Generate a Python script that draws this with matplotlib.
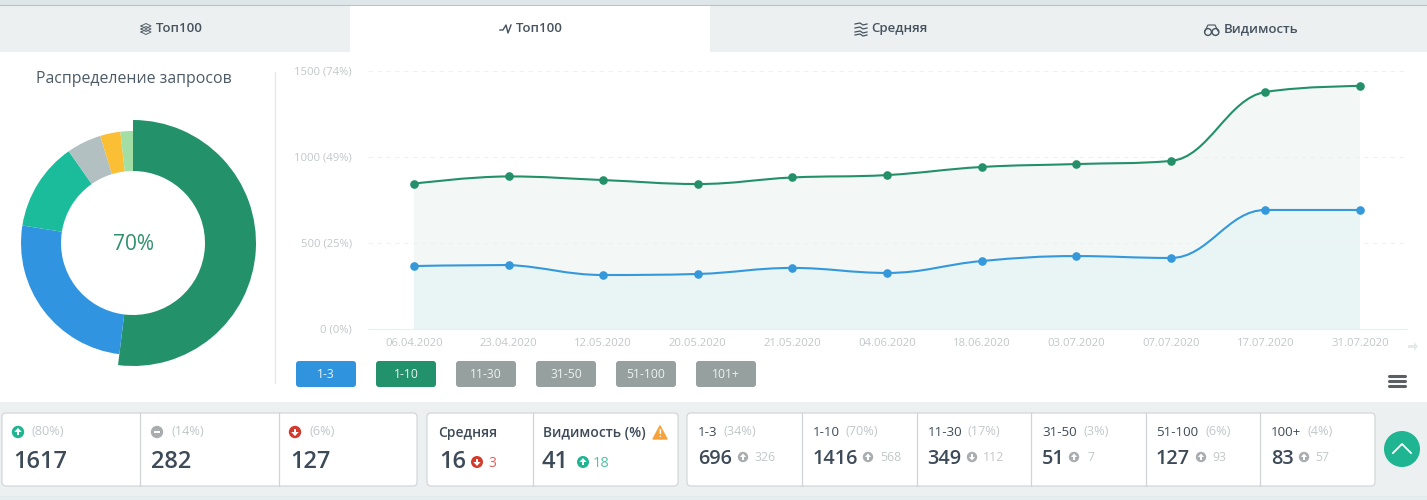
import matplotlib
matplotlib.use("Agg")
import matplotlib.pyplot as plt
from matplotlib.patches import Circle, FancyBboxPatch, PathPatch, Polygon, Rectangle
from matplotlib.path import Path

plt.rcParams['font.family'] = ['Open Sans', 'DejaVu Sans']

W, H = 1427, 500

# data
dates = ["06.04.2020", "23.04.2020", "12.05.2020", "20.05.2020", "21.05.2020", "04.06.2020",
         "18.06.2020", "03.07.2020", "07.07.2020", "17.07.2020", "31.07.2020"]
top10 = [845, 887, 866, 843, 881, 895, 942, 959, 977, 1378, 1413]
top3 = [366, 372, 314, 320, 355, 326, 395, 424, 413, 692, 692]
y_ticks = [0, 500, 1000, 1500]
y_labels = ["0 (0%)", "500 (25%)", "1000 (49%)", "1500 (74%)"]

pie_sizes = [187, 92, 46, 18, 10.5, 6.5]
pie_colors = ["#23926b", "#3094e0", "#1abc9c", "#b2c0c2", "#fbbf35", "#a3dea4"]

tab_names = ["Топ100", "Топ100", "Средняя", "Видимость"]
button_names = ["1-3", "1-10", "11-30", "31-50", "51-100", "101+"]
button_colors = ["#2f93dd", "#21926b", "#95a09f", "#95a09f", "#95a09f", "#95a09f"]

change_pct = ["(80%)", "(14%)", "(6%)"]
change_val = ["1617", "282", "127"]

range_names = ["1-3", "1-10", "11-30", "31-50", "51-100", "100+"]
range_pct = ["(34%)", "(70%)", "(17%)", "(3%)", "(6%)", "(4%)"]
range_val = ["696", "1416", "349", "51", "127", "83"]
range_delta = ["326", "568", "112", "7", "93", "57"]

DARK = "#3d4a58"
LIGHT = "#c3c7c9"
GREEN = "#23906a"
BLUE = "#3498db"

fig = plt.figure(figsize=(W / 100, H / 100), dpi=100, facecolor="white")

# page overlay in pixel coordinates
bg = fig.add_axes([0, 0, 1, 1], zorder=0)
bg.set_xlim(0, W)
bg.set_ylim(H, 0)
bg.axis("off")


def rect(x0, y0, x1, y1, color, z=1):
    bg.add_patch(Rectangle((x0, y0), x1 - x0, y1 - y0, fc=color, ec="none", zorder=z))


def card(x0, x1, dividers):
    bg.add_patch(FancyBboxPatch((x0, 413), x1 - x0, 73, boxstyle="round,pad=0,rounding_size=4",
                                fc="white", ec="#d3d7d9", lw=0.9, zorder=2))
    for d in dividers:
        bg.plot([d, d], [413, 486], color="#d0d4d6", lw=0.9, zorder=3)


def arrow_icon(x, y, r, color, kind="up"):
    bg.add_patch(Circle((x, y), r, fc=color, ec="none", zorder=4))
    s = r * 0.55
    if kind == "flat":
        bg.add_patch(Rectangle((x - s, y - s * 0.4), 2 * s, s * 0.8, fc="white", ec="none", zorder=5))
        return
    d = -1 if kind == "up" else 1
    bg.add_patch(Polygon([(x - s * 1.1, y), (x, y + d * s * 1.2), (x + s * 1.1, y)], fc="white", ec="none", zorder=5))
    bg.add_patch(Rectangle((x - s * 0.35, y - (s if d > 0 else 0)), s * 0.7, s, fc="white", ec="none", zorder=5))


def txt(x, y, s, size, color=DARK, ha="left", weight="normal"):
    # va center sits a little high for this font
    bg.text(x, y + 1.5, s, fontsize=size, color=color, ha=ha, va="center", weight=weight, zorder=6)


# bands and tabs
rect(0, 0, W, 5, "#dfe6ea")
bg.plot([0, W], [4.5, 4.5], color="#b9c3c9", lw=0.8, zorder=2)
rect(0, 5, W, 52, "#ecf0f1")
rect(350, 6, 710, 52, "white", 2)
rect(0, 402, W, 500, "#ecf0f1")
bg.plot([0, W], [496.5, 496.5], color="#c3cdcd", lw=1, zorder=2)
rect(0, 497, W, 500, "#e4edf0", 2)

tab_x = [156, 516, 871, 1224]
for x, name in zip(tab_x, tab_names):
    txt(x, 27, name, 9.5, "#46535f", weight="semibold")

# tab icons
for dy in (-3, 0, 3):
    bg.plot([141, 146, 151, 146, 141], [29 + dy, 26.5 + dy, 29 + dy, 31.5 + dy, 29 + dy], color="#55606a", lw=0.7, zorder=4)
bg.plot([500, 503, 506, 508, 511], [30, 30, 25, 33, 25], color="#46535f", lw=1, zorder=4)
for dy in (-5, -1, 3, 6):
    bg.plot([855, 860, 863, 867], [29 + dy, 28 + dy, 30 + dy, 29 + dy], color="#46535f", lw=0.9, zorder=4)
bg.add_patch(Circle((1208, 32), 3.4, fc="none", ec="#46535f", lw=1, zorder=4))
bg.add_patch(Circle((1215.5, 32), 3.4, fc="none", ec="#46535f", lw=1, zorder=4))
bg.plot([1205, 1208, 1215, 1218], [31, 25, 25, 31], color="#46535f", lw=0.8, zorder=4)

# left panel
txt(134, 77.5, "Распределение запросов", 11.4, "#4c5a66", ha="center")
bg.plot([275, 275], [72, 383], color="#e6e9eb", lw=1, zorder=2)

# buttons
for i, (name, c) in enumerate(zip(button_names, button_colors)):
    x0 = 296 + 80 * i
    bg.add_patch(FancyBboxPatch((x0, 361), 60, 26, boxstyle="round,pad=0,rounding_size=3",
                                fc=c, ec="none", zorder=3))
    txt(x0 + 30, 373, name, 8.7, "#eef2f2", ha="center")

# menu icon and scroll arrow
for y in (375.5, 380.5, 386):
    bg.plot([1389, 1405], [y, y], color="#5a5f63", lw=2.2, solid_capstyle="round", zorder=3)
bg.add_patch(Polygon([(1408, 345), (1414, 345), (1414, 342), (1418, 346.5), (1414, 351), (1414, 348), (1408, 348)],
                     fc="#e6e8e9", ec="none", zorder=3))

# up / same / down card
card(2, 417, [139.5, 278.5])
icon_x = [18, 157, 295]
pct_x = [32, 171, 309]
val_x = [13, 151, 290]
kinds = ["up", "flat", "down"]
icon_c = ["#1fb592", "#a9adaf", "#d33a2c"]
for i in range(3):
    arrow_icon(icon_x[i], 432, 6.2, icon_c[i], kinds[i])
    txt(pct_x[i], 430, change_pct[i], 9.2, LIGHT)
    txt(val_x[i], 460, change_val[i], 17, DARK, weight="semibold")

# average / visibility card
card(427, 678, [532.5])
txt(438, 432, "Средняя", 10, DARK, weight="semibold")
txt(439, 460, "16", 17, DARK, weight="semibold")
arrow_icon(477, 462, 6, "#d33a2c", "down")
txt(488, 462, "3", 10, "#d9625a")
txt(543, 432, "Видимость (%)", 10, DARK, weight="semibold")
bg.add_patch(Polygon([(653, 439), (667, 439), (660, 426)], fc="#f5a23b", ec="#f5a23b", lw=1, joinstyle="round", zorder=4))
bg.text(660, 434.5, "!", fontsize=7, color="white", ha="center", va="center", weight="bold", zorder=5)
txt(542, 460, "41", 17, DARK, weight="semibold")
arrow_icon(583, 462, 6, "#1fb592", "up")
txt(593, 462, "18", 10.5, "#55bfa5")

# ranges card
card(687, 1375, [801.5, 916.5, 1030.5, 1145.5, 1259.5])
name_x = [698, 813, 928, 1042, 1156, 1271]
rpct_x = [723, 846, 968, 1083, 1205, 1307]
rval_x = [698, 813, 927, 1042, 1156, 1271]
ricon_x = [743, 868, 972, 1074, 1201, 1304]
rdelta_x = [754, 880, 983, 1087, 1212, 1315]
for i in range(6):
    txt(name_x[i], 431, range_names[i], 9.6, DARK)
    txt(rpct_x[i], 430, range_pct[i], 9.2, LIGHT)
    txt(rval_x[i], 458, range_val[i], 14.3, DARK, weight="semibold")
    arrow_icon(ricon_x[i], 457, 5.2, "#a9adaf", "down" if i == 2 else "up")
    txt(rdelta_x[i], 456, range_delta[i], 8.8, LIGHT)

# back to top button
bg.add_patch(Circle((1402, 449), 18, fc="#1fb592", ec="none", zorder=3))
bg.plot([1393, 1402, 1411], [453, 444, 453], color="white", lw=1.3, zorder=4)


def spline_parts(xs, ys):
    # same smoothing idea as the web chart: control points bent through each point
    k = 1.5
    left, right = [], []
    for i in range(len(xs)):
        if i == 0 or i == len(xs) - 1:
            left.append((xs[i], ys[i]))
            right.append((xs[i], ys[i]))
            continue
        lx = (k * xs[i] + xs[i - 1]) / (k + 1)
        ly = (k * ys[i] + ys[i - 1]) / (k + 1)
        rx = (k * xs[i] + xs[i + 1]) / (k + 1)
        ry = (k * ys[i] + ys[i + 1]) / (k + 1)
        slope = (ry - ly) / (rx - lx)
        ly = ys[i] - slope * (xs[i] - lx)
        ry = ys[i] + slope * (rx - xs[i])
        # keep the curve from overshooting its neighbours
        if ly > max(ys[i - 1], ys[i]) or ly < min(ys[i - 1], ys[i]):
            ly = max(min(ly, max(ys[i - 1], ys[i])), min(ys[i - 1], ys[i]))
            ry = ys[i] * 2 - ly if xs[i] - lx == rx - xs[i] else ry
        if ry > max(ys[i + 1], ys[i]) or ry < min(ys[i + 1], ys[i]):
            ry = max(min(ry, max(ys[i + 1], ys[i])), min(ys[i + 1], ys[i]))
            ly = ys[i] * 2 - ry
        left.append((lx, ly))
        right.append((rx, ry))
    verts = [(xs[0], ys[0])]
    codes = [Path.MOVETO]
    for i in range(1, len(xs)):
        verts += [right[i - 1], left[i], (xs[i], ys[i])]
        codes += [Path.CURVE4] * 3
    return verts, codes


# line chart
x_pos = list(range(len(dates)))
ax = fig.add_axes([368 / W, 1 - 329 / H, (1407 - 368) / W, 258 / H], zorder=2)
ax.patch.set_alpha(0)
ax.set_xlim(-46 / 94.6, (1407 - 414) / 94.6)
ax.set_ylim(0, 1500)
for s in ax.spines.values():
    s.set_visible(False)
ax.spines["bottom"].set_visible(True)
ax.spines["bottom"].set_color("#e9eef0")
ax.set_xticks(x_pos)
ax.set_xticklabels(dates)
ax.set_yticks(y_ticks)
ax.set_yticklabels(y_labels)
ax.tick_params(axis="both", length=0, labelsize=8.1, labelcolor=LIGHT)
ax.tick_params(axis="x", pad=6.5)
ax.tick_params(axis="y", pad=11.5)
ax.yaxis.grid(True, color="#eef0f1", lw=0.8, ls=(0, (4, 4)), zorder=3)
ax.set_axisbelow(False)

for vals, line_c, fill_c, z in [(top10, GREEN, "#f3f7f6", 1), (top3, BLUE, "#e9f4f5", 2)]:
    verts, codes = spline_parts(x_pos, vals)
    closed = verts + [(x_pos[-1], 0), (x_pos[0], 0), (x_pos[0], vals[0])]
    closed_codes = codes + [Path.LINETO, Path.LINETO, Path.CLOSEPOLY]
    ax.add_patch(PathPatch(Path(closed, closed_codes), fc=fill_c, ec="none", zorder=z))
    ax.add_patch(PathPatch(Path(verts, codes), fc="none", ec=line_c, lw=1.5, zorder=4))
    ax.plot(x_pos, vals, ls="none", marker="o", ms=6.2, color=line_c, mec="none", zorder=5)

# donut
pie_ax = fig.add_axes([3 / W, 1 - 373 / H, 260 / W, 260 / H], zorder=2)
wedges, _ = pie_ax.pie(pie_sizes, colors=pie_colors, startangle=90, counterclock=False,
                       radius=112, wedgeprops={"width": 40, "linewidth": 0})
wedges[0].set_radius(123)
wedges[0].set_width(51)
pie_ax.set_xlim(-130, 130)
pie_ax.set_ylim(-130, 130)
pie_ax.text(0, -1.5, "70%", fontsize=15, color="#2f8f6c", ha="center", va="center")

fig.savefig("out.png", dpi=100, facecolor="white")
